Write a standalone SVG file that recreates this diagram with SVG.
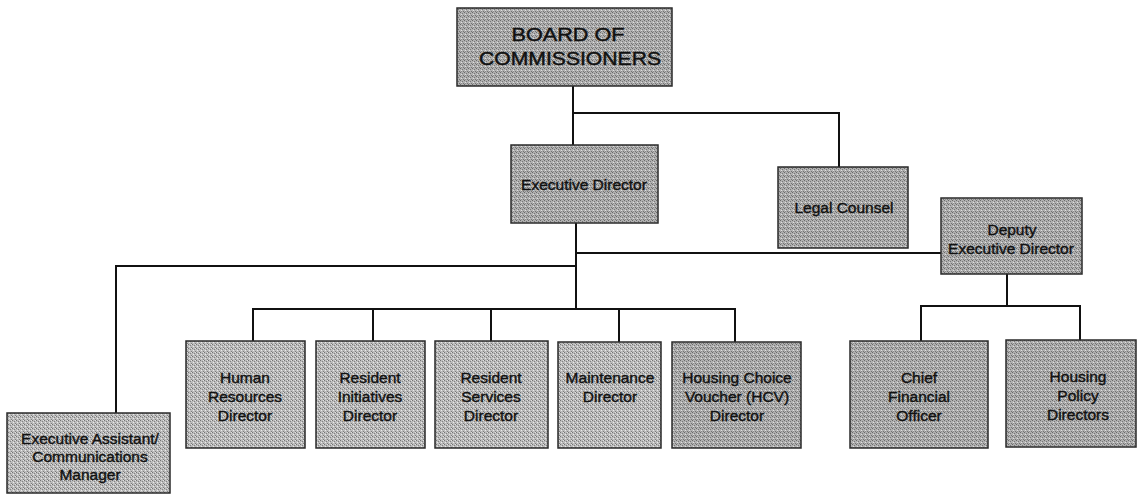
<svg xmlns="http://www.w3.org/2000/svg" width="1143" height="494" viewBox="0 0 1143 494">
<defs>
<pattern id="g1" width="4" height="4" patternUnits="userSpaceOnUse">
<rect width="4" height="4" fill="#bcbcbc"/>
<rect x="0" y="0" width="1" height="1" fill="#747474"/>
<rect x="2" y="1" width="1" height="1" fill="#828282"/>
<rect x="1" y="2" width="1" height="1" fill="#eaeaea"/>
<rect x="3" y="3" width="1" height="1" fill="#7e7e7e"/>
<rect x="3" y="0" width="1" height="1" fill="#e0e0e0"/>
</pattern>
<pattern id="g2" width="4" height="4" patternUnits="userSpaceOnUse">
<rect width="4" height="4" fill="#b0b0b0"/>
<rect x="0" y="0" width="1" height="1" fill="#6a6a6a"/>
<rect x="2" y="1" width="1" height="1" fill="#767676"/>
<rect x="1" y="2" width="1" height="1" fill="#e0e0e0"/>
<rect x="3" y="3" width="1" height="1" fill="#737373"/>
<rect x="1" y="3" width="1" height="1" fill="#8c8c8c"/>
</pattern>
</defs>
<style>
.box1{fill:url(#g1);stroke:#2a2a2a;stroke-width:1.5}
.box2{fill:url(#g2);stroke:#2a2a2a;stroke-width:1.5}
.t{font-family:"Liberation Sans",Arial,sans-serif;font-size:15.5px;fill:#111;stroke:#111;stroke-width:0.4;text-anchor:middle}
.tb{font-family:"Liberation Sans",Arial,sans-serif;font-size:19px;fill:#111;stroke:#111;stroke-width:0.45;text-anchor:middle}
.c{fill:none;stroke:#111;stroke-width:2}
</style>
<rect width="1143" height="494" fill="#ffffff"/>
<g id="connectors">
<path class="c" d="M573,86 V145 M573,113 H839 V167"/>
<path class="c" d="M576,223 V309 M576,253 H941 M576,266 H116 V413"/>
<path class="c" d="M253,341 V309 H735 V342 M373,309 V341 M491,309 V341 M619,309 V342"/>
<path class="c" d="M1007,274 V306 M921,341 V306 H1080 V340"/>
</g>
<g id="board">
<rect class="box2" x="457" y="8" width="215" height="78"/>
<text class="tb" x="568" y="41" textLength="113" lengthAdjust="spacingAndGlyphs">BOARD OF</text>
<text class="tb" x="570" y="65" textLength="182" lengthAdjust="spacingAndGlyphs">COMMISSIONERS</text>
</g>
<g id="executive-director">
<rect class="box2" x="511" y="145" width="147" height="78"/>
<text class="t" x="584" y="190">Executive Director</text>
</g>
<g id="legal-counsel">
<rect class="box2" x="778" y="167" width="130" height="81"/>
<text class="t" x="844" y="213">Legal Counsel</text>
</g>
<g id="deputy-executive-director">
<rect class="box2" x="941" y="198" width="141" height="76"/>
<text class="t" x="1012" y="235">Deputy</text>
<text class="t" x="1011" y="254">Executive Director</text>
</g>
<g id="executive-assistant">
<rect class="box1" x="7" y="413" width="163" height="80"/>
<text class="t" x="90" y="444">Executive Assistant/</text>
<text class="t" x="90" y="462">Communications</text>
<text class="t" x="90" y="480">Manager</text>
</g>
<g id="hr-director">
<rect class="box1" x="186" y="341" width="119" height="107"/>
<text class="t" x="245" y="383">Human</text>
<text class="t" x="245" y="402">Resources</text>
<text class="t" x="245" y="421">Director</text>
</g>
<g id="resident-initiatives">
<rect class="box1" x="316" y="341" width="109" height="107"/>
<text class="t" x="370" y="383">Resident</text>
<text class="t" x="370" y="402">Initiatives</text>
<text class="t" x="370" y="421">Director</text>
</g>
<g id="resident-services">
<rect class="box1" x="435" y="341" width="113" height="107"/>
<text class="t" x="491" y="383">Resident</text>
<text class="t" x="491" y="402">Services</text>
<text class="t" x="491" y="421">Director</text>
</g>
<g id="maintenance">
<rect class="box1" x="558" y="342" width="103" height="106"/>
<text class="t" x="610" y="383">Maintenance</text>
<text class="t" x="610" y="402">Director</text>
</g>
<g id="hcv-director">
<rect class="box2" x="672" y="342" width="129" height="106"/>
<text class="t" x="737" y="383">Housing Choice</text>
<text class="t" x="737" y="402">Voucher (HCV)</text>
<text class="t" x="737" y="421">Director</text>
</g>
<g id="cfo">
<rect class="box2" x="850" y="341" width="138" height="107"/>
<text class="t" x="919" y="383">Chief</text>
<text class="t" x="919" y="402">Financial</text>
<text class="t" x="919" y="421">Officer</text>
</g>
<g id="housing-policy">
<rect class="box2" x="1006" y="340" width="130" height="107"/>
<text class="t" x="1078" y="382">Housing</text>
<text class="t" x="1078" y="401">Policy</text>
<text class="t" x="1078" y="420">Directors</text>
</g>
</svg>
